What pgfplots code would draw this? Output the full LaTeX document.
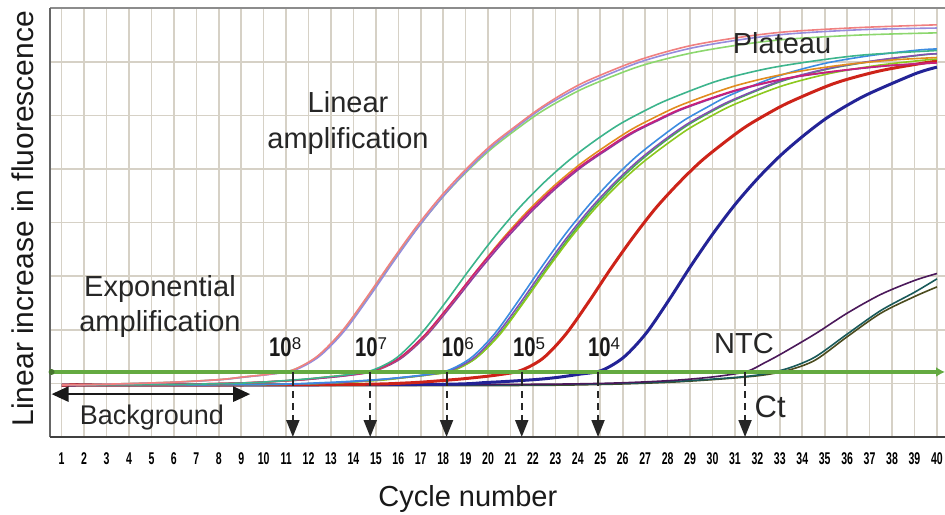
\documentclass[border=0pt]{standalone}
\usepackage{fontspec}
\setmainfont{Liberation Sans}
\newfontfamily\expnum[FakeStretch=0.75]{Liberation Sans}
\usepackage{pgfplots}
\pgfplotsset{compat=1.18}
\usetikzlibrary{arrows.meta}
\definecolor{pinkc}{RGB}{240,128,128}
\definecolor{lavc}{RGB}{150,140,220}
\definecolor{lgreenc}{RGB}{140,215,110}
\definecolor{tealc}{RGB}{60,180,140}
\definecolor{orangec}{RGB}{225,140,30}
\definecolor{magc}{RGB}{205,30,120}
\definecolor{purp7}{RGB}{140,60,160}
\definecolor{lbluec}{RGB}{60,140,225}
\definecolor{purp6}{RGB}{130,80,180}
\definecolor{ygreenc}{RGB}{140,200,30}
\definecolor{greenc}{RGB}{70,175,80}
\definecolor{redc}{RGB}{205,35,25}
\definecolor{navyc}{RGB}{35,35,150}
\definecolor{ntcpurp}{RGB}{75,25,90}
\definecolor{ntcteal}{RGB}{25,90,90}
\definecolor{ntcolive}{RGB}{75,75,30}
\definecolor{thrc}{RGB}{100,170,65}
\definecolor{gridc}{RGB}{214,209,198}
\newcommand{\expl}[1]{{\expnum\bfseries\fontsize{27bp}{27bp}\selectfont 10}\raisebox{7bp}{\fontsize{17bp}{17bp}\selectfont #1}}
\begin{document}
\begin{tikzpicture}
\begin{axis}[
  scale only axis, width=895bp, height=428.8bp,
  xmin=0.48, xmax=40.36, ymin=0, ymax=8,
  xtick={1,2,...,40},
  xticklabel={\scalebox{0.62}[1]{\bfseries\fontsize{17bp}{17bp}\selectfont\pgfmathprintnumber[assume math mode=true]{\tick}}},
  ytick={1,2,...,7}, yticklabels={},
  grid=major, major grid style={line width=1.6bp, color=gridc},
  major tick length=0pt,
  axis line style={draw=none},
  xticklabel style={yshift=-12.5bp, text=black},
  clip=false,
  every axis plot/.append style={smooth, line width=1.6bp, no markers},
]
% NTC
\addplot[ntcolive] coordinates {(1,0.96) (20,0.96) (25,0.98) (28,1.02) (30,1.07) (31.5,1.12) (32.5,1.17) (33.5,1.26) (34.6,1.44) (36.0,1.87) (37.5,2.31) (39.0,2.62) (40,2.80)};
\addplot[ntcteal] coordinates {(1,0.97) (20,0.97) (25,0.99) (28,1.03) (30,1.08) (31.5,1.13) (32.5,1.19) (33.5,1.30) (34.6,1.50) (36.0,1.92) (37.5,2.36) (39.0,2.70) (40,2.95)};
\addplot[ntcpurp] coordinates {(1,0.97) (20,0.98) (25,1.00) (28,1.05) (30,1.12) (31.5,1.22) (32.3,1.38) (33.1,1.56) (34.6,1.93) (36.0,2.31) (37.5,2.66) (39.0,2.92) (40,3.05)};
% 10^4
\addplot[navyc, line width=3bp] coordinates {(1,0.97) (17.05,0.98) (20.05,1.02) (22.05,1.07) (23.05,1.11) (24.05,1.17) (25.05,1.24) (26.05,1.49) (27.05,1.94) (28.05,2.55) (29.05,3.20) (30.05,3.81) (31.05,4.36) (32.05,4.84) (33.05,5.26) (34.05,5.62) (35.05,5.94) (36.05,6.20) (37.05,6.42) (39.05,6.78) (40,6.90)};
% 10^5
\addplot[redc, line width=3bp] coordinates {(1,0.97) (13.45,0.98) (16.45,1.01) (18.45,1.07) (19.45,1.11) (20.45,1.16) (21.45,1.24) (22.45,1.47) (23.45,1.91) (24.45,2.50) (25.45,3.13) (26.45,3.72) (27.45,4.26) (28.45,4.72) (29.45,5.13) (30.45,5.47) (31.45,5.78) (32.45,6.03) (33.45,6.25) (35.45,6.60) (37.45,6.83) (39.45,6.98) (40,7.01)};
% 10^6
\addplot[greenc] coordinates {(1,0.97) (10.0,0.98) (13.15,1.01) (15.25,1.07) (16.3,1.11) (17.35,1.16) (18.4,1.24) (19.45,1.47) (20.5,1.92) (21.55,2.51) (22.6,3.14) (23.65,3.74) (24.7,4.28) (25.75,4.75) (26.8,5.16) (27.85,5.51) (28.9,5.82) (29.95,6.07) (31.0,6.29) (33.1,6.64) (35.2,6.87) (37.3,7.02) (39.4,7.13) (40,7.15)};
\addplot[ygreenc] coordinates {(1,0.97) (10.0,0.98) (13.15,1.01) (15.25,1.06) (16.3,1.11) (17.35,1.16) (18.4,1.23) (19.45,1.47) (20.5,1.90) (21.55,2.49) (22.6,3.11) (23.65,3.70) (24.7,4.23) (25.75,4.69) (26.8,5.09) (27.85,5.43) (28.9,5.74) (29.95,5.99) (31.0,6.21) (33.1,6.55) (35.2,6.78) (37.3,6.93) (39.4,7.03) (40,7.05)};
\addplot[purp6] coordinates {(1,0.97) (9.9,0.98) (13.05,1.01) (15.15,1.07) (16.2,1.11) (17.25,1.16) (18.3,1.24) (19.35,1.47) (20.4,1.92) (21.45,2.51) (22.5,3.14) (23.55,3.74) (24.6,4.28) (25.65,4.75) (26.7,5.16) (27.75,5.51) (28.8,5.82) (29.85,6.07) (30.9,6.29) (33.0,6.64) (35.1,6.87) (37.2,7.02) (39.3,7.13) (40,7.15)};
\addplot[lbluec] coordinates {(1,0.97) (9.8,0.98) (12.95,1.02) (15.05,1.07) (16.1,1.11) (17.15,1.16) (18.2,1.24) (19.25,1.48) (20.3,1.93) (21.35,2.54) (22.4,3.18) (23.45,3.79) (24.5,4.33) (25.55,4.81) (26.6,5.23) (27.65,5.58) (28.7,5.90) (29.75,6.15) (30.8,6.38) (32.9,6.73) (35.0,6.97) (37.1,7.12) (39.2,7.22) (40,7.24)};
% 10^7
\addplot[purp7] coordinates {(1,0.97) (5.75,0.98) (9.2,1.01) (11.5,1.06) (12.65,1.10) (13.8,1.15) (14.95,1.23) (16.1,1.46) (17.25,1.89) (18.4,2.47) (19.55,3.08) (20.7,3.65) (21.85,4.17) (23.0,4.63) (24.15,5.03) (25.3,5.36) (26.45,5.67) (27.6,5.91) (28.75,6.13) (31.05,6.46) (33.35,6.69) (35.65,6.83) (37.95,6.93) (40,6.98)};
\addplot[orangec] coordinates {(1,0.97) (5.7,0.98) (9.15,1.01) (11.45,1.06) (12.6,1.11) (13.75,1.16) (14.9,1.23) (16.05,1.47) (17.2,1.90) (18.35,2.49) (19.5,3.11) (20.65,3.70) (21.8,4.23) (22.95,4.69) (24.1,5.09) (25.25,5.43) (26.4,5.74) (27.55,5.99) (28.7,6.21) (31.0,6.55) (33.3,6.78) (35.6,6.93) (37.9,7.03) (40,7.08)};
\addplot[magc] coordinates {(1,0.97) (5.65,0.98) (9.1,1.01) (11.4,1.06) (12.55,1.10) (13.7,1.15) (14.85,1.23) (16.0,1.46) (17.15,1.89) (18.3,2.47) (19.45,3.08) (20.6,3.65) (21.75,4.17) (22.9,4.63) (24.05,5.03) (25.2,5.36) (26.35,5.67) (27.5,5.91) (28.65,6.13) (30.95,6.46) (33.25,6.69) (35.55,6.83) (37.85,6.93) (40,6.98)};
\addplot[tealc] coordinates {(1,0.97) (6.0,0.98) (9.3,1.01) (11.5,1.07) (12.6,1.11) (13.7,1.16) (14.8,1.24) (15.9,1.47) (17.0,1.92) (18.1,2.51) (19.2,3.14) (20.3,3.74) (21.4,4.28) (22.5,4.75) (23.6,5.16) (24.7,5.51) (25.8,5.82) (26.9,6.07) (28.0,6.29) (30.2,6.64) (32.4,6.87) (34.6,7.02) (36.8,7.13) (40.0,7.21)};
% 10^8
\addplot[lgreenc] coordinates {(1,0.97) (2.5,0.98) (5.8,1.02) (8.0,1.07) (9.1,1.12) (10.2,1.17) (11.3,1.25) (12.4,1.50) (13.5,1.96) (14.6,2.59) (15.7,3.25) (16.8,3.87) (17.9,4.44) (19.0,4.93) (20.1,5.36) (21.2,5.72) (22.3,6.05) (23.4,6.32) (24.5,6.55) (26.7,6.91) (28.9,7.15) (31.1,7.31) (33.3,7.42) (36.6,7.50) (40,7.54)};
\addplot[lavc] coordinates {(1,0.97) (2.6,0.98) (5.9,1.02) (8.1,1.07) (9.2,1.12) (10.3,1.17) (11.4,1.25) (12.5,1.51) (13.6,1.98) (14.7,2.61) (15.8,3.28) (16.9,3.92) (18.0,4.49) (19.1,4.99) (20.2,5.43) (21.3,5.79) (22.4,6.13) (23.5,6.40) (24.6,6.63) (26.8,7.00) (29.0,7.25) (31.2,7.41) (33.4,7.52) (36.7,7.60) (40,7.63)};
\addplot[pinkc] coordinates {(1,0.97) (2.5,0.98) (5.8,1.02) (8.0,1.07) (9.1,1.12) (10.2,1.17) (11.3,1.25) (12.4,1.51) (13.5,1.98) (14.6,2.61) (15.7,3.28) (16.8,3.92) (17.9,4.49) (19.0,4.99) (20.1,5.43) (21.2,5.79) (22.3,6.13) (23.4,6.42) (24.5,6.66) (26.7,7.03) (28.9,7.29) (31.1,7.45) (33.3,7.56) (36.6,7.64) (40,7.69)};
% frame
\draw[line width=2.5bp, color=black!45] (rel axis cs:0,1) -- (rel axis cs:1,1);
\draw[line width=2.5bp, color=black!60] (rel axis cs:0,0) -- (rel axis cs:0,1);
\draw[line width=2.5bp, color=black!75] (rel axis cs:0,0) -- (rel axis cs:1,0);
% threshold
\draw[line width=3.8bp, color=thrc, -{Latex[length=9bp,width=10bp]}] (axis cs:0.48,1.213) -- (axis cs:40.36,1.213);
\fill[color=thrc!70!black] (axis cs:0.55,1.213) circle[radius=3bp];
% Ct markers
\pgfplotsinvokeforeach{11.3,14.75,18.15,21.5,24.9,31.45}{
  \draw[line width=2bp, black!85] (axis cs:#1,1.213) -- (axis cs:#1,0.95);
  \draw[line width=2bp, black!85, dash pattern=on 7bp off 5bp, -{Triangle[length=17bp,width=13bp]}] (axis cs:#1,0.86) -- (axis cs:#1,0);
}
% background arrow
\draw[line width=2.5bp, black!90, {Triangle[length=17bp,width=15bp]}-{Triangle[length=17bp,width=15bp]}] (axis cs:0.55,0.80) -- (axis cs:9.4,0.80);
% texts
\node[font=\fontsize{27bp}{27bp}\selectfont, anchor=base, text=black!85] at (axis cs:5.02,0.224) {Background};
\node[font=\fontsize{29bp}{35bp}\selectfont, align=center, text=black!85] at (axis cs:5.38,2.43) {Exponential\\amplification};
\node[font=\fontsize{29bp}{36bp}\selectfont, align=center, text=black!85] at (axis cs:13.76,5.85) {Linear\\amplification};
\node[font=\fontsize{29bp}{29bp}\selectfont, anchor=base, text=black!85] at (axis cs:33.1,7.16) {Plateau};
\node[font=\fontsize{29bp}{29bp}\selectfont, anchor=base, text=black!85] at (axis cs:31.4,1.56) {NTC};
\node[font=\fontsize{31bp}{31bp}\selectfont, anchor=base, text=black!85] at (axis cs:32.57,0.373) {Ct};
\node[anchor=base west, inner sep=0pt, text=black!90] at (axis cs:10.24,1.50) {\expl{8}};
\node[anchor=base west, inner sep=0pt, text=black!90] at (axis cs:14.07,1.50) {\expl{7}};
\node[anchor=base west, inner sep=0pt, text=black!90] at (axis cs:17.93,1.50) {\expl{6}};
\node[anchor=base west, inner sep=0pt, text=black!90] at (axis cs:21.11,1.50) {\expl{5}};
\node[anchor=base west, inner sep=0pt, text=black!90] at (axis cs:24.45,1.50) {\expl{4}};
% axis labels
\node[font=\fontsize{29bp}{29bp}\selectfont, anchor=base, text=black!90] at (axis cs:19.1,0) [yshift=-69.5bp] {Cycle number};
\node[font=\fontsize{30bp}{30bp}\selectfont, anchor=base, rotate=90, text=black!90] at (rel axis cs:-0.0179,0.509) {Linear increase in fluorescence};
\coordinate (BL) at (rel axis cs:0,0);
\coordinate (TR) at (rel axis cs:1,1);
\end{axis}
\pgfresetboundingbox
\path ([xshift=-50bp,yshift=-78bp]BL) rectangle ([yshift=8.2bp]TR);
\end{tikzpicture}
\end{document}
